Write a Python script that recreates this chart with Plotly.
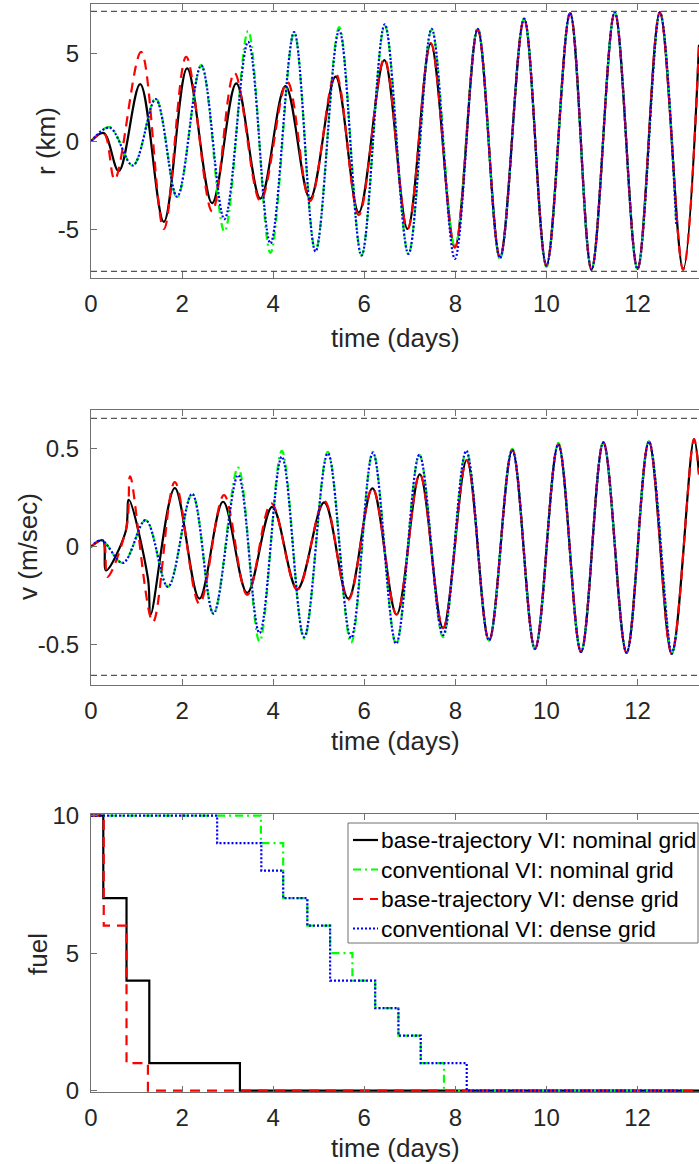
import plotly.graph_objects as go

# ---------------- data ----------------
X_MAX = 13.35
X_TICKS = [0, 2, 4, 6, 8, 10, 12]

# position r (km): extrema of each trajectory
T_R_BT_NOM = [0, 0.28, 0.61, 1.08, 1.60, 2.11, 2.66, 3.19, 3.72, 4.27, 4.81, 5.37, 5.88, 6.44,
              6.95, 7.46, 7.99, 8.49, 8.98, 9.51, 10.0, 10.52, 10.99, 11.50, 12.0, 12.49, 13.0, 13.35]
R_BT_NOM = [0, 0.47, -1.70, 3.26, -4.58, 4.15, -3.52, 3.30, -3.26, 3.15, -3.26, 3.68, -4.05, 4.62,
            -4.99, 5.56, -6.03, 6.36, -6.60, 6.98, -7.07, 7.30, -7.30, 7.35, -7.26, 7.35, -7.30, 5.50]

T_R_BT_DEN = [0, 0.28, 0.52, 1.10, 1.60, 2.09, 2.66, 3.15, 3.72, 4.31, 4.81, 5.37, 5.88, 6.44,
              6.95, 7.46, 7.99, 8.49, 8.98, 9.51, 10.0, 10.52, 10.99, 11.50, 12.0, 12.49, 13.0, 13.35]
R_BT_DEN = [0, 0.47, -2.17, 5.09, -4.99, 4.81, -4.00, 3.90, -3.39, 3.39, -3.40, 3.87, -4.20, 4.71,
            -5.00, 5.60, -6.05, 6.36, -6.60, 6.98, -7.07, 7.30, -7.30, 7.35, -7.26, 7.35, -7.30, 5.50]

T_R_CV = [0, 0.41, 0.92, 1.42, 1.89, 2.42, 2.93, 3.45, 3.94, 4.46, 4.93, 5.45, 5.94, 6.45,
          6.97, 7.48, 7.99, 8.49, 8.98, 9.51, 10.0, 10.52, 10.99, 11.50, 12.0, 12.49, 12.85]
R_CV_NOM = [0, 0.81, -1.37, 2.45, -3.20, 4.34, -5.13, 6.28, -6.35, 6.19, -6.22, 6.50, -6.50, 6.60,
            -6.41, 6.36, -6.03, 6.47, -6.70, 7.00, -7.15, 7.30, -7.30, 7.35, -7.26, 7.35, -4.70]
R_CV_DEN = [0, 0.78, -1.37, 2.40, -3.15, 4.32, -4.43, 5.66, -5.81, 6.22, -6.27, 6.32, -6.50, 6.66,
            -6.41, 6.41, -6.69, 6.41, -6.65, 6.98, -7.07, 7.30, -7.30, 7.35, -7.26, 7.35, -4.70]

R_LIMIT = 7.4
R_RANGE = [-7.78, 7.82]
R_TICKS = [-5, 0, 5]
R_TICK_TEXT = ["-5", "0", "5"]

# velocity v (m/sec)
T_V_BT_NOM = [0, 0.26, 0.33, 0.76, 0.83, 1.25, 1.31, 1.84, 2.38, 2.90, 3.43, 3.98, 4.53, 5.12, 5.65,
              6.18, 6.71, 7.22, 7.73, 8.25, 8.74, 9.25, 9.75, 10.26, 10.76, 11.25, 11.76, 12.25,
              12.75, 13.24, 13.35]
V_BT_NOM = [0, 0.034, -0.12, 0.077, 0.24, -0.16, -0.345, 0.30, -0.264, 0.23, -0.235, 0.204, -0.216,
            0.227, -0.264, 0.298, -0.345, 0.37, -0.414, 0.443, -0.477, 0.494, -0.52, 0.523, -0.536,
            0.533, -0.54, 0.537, -0.545, 0.549, 0.37]

T_V_BT_DEN = [0, 0.26, 0.36, 0.78, 0.86, 1.36, 1.84, 2.38, 2.92, 3.43, 3.96, 4.53, 5.12, 5.65,
              6.18, 6.71, 7.22, 7.73, 8.25, 8.74, 9.25, 9.75, 10.26, 10.76, 11.25, 11.76, 12.25,
              12.75, 13.24, 13.35]
V_BT_DEN = [0, 0.034, -0.153, 0.10, 0.36, -0.383, 0.33, -0.29, 0.264, -0.245, 0.222, -0.218, 0.235,
            -0.27, 0.30, -0.345, 0.37, -0.414, 0.443, -0.477, 0.494, -0.52, 0.523, -0.536, 0.533,
            -0.54, 0.537, -0.545, 0.549, 0.37]

T_V_CV = [0, 0.23, 0.70, 1.20, 1.69, 2.22, 2.69, 3.23, 3.70, 4.19, 4.68, 5.20, 5.71, 6.19, 6.70,
          7.21, 7.73, 8.24, 8.74, 9.25, 9.75, 10.26, 10.76, 11.25, 11.76, 12.25, 12.75, 12.85]
V_CV_NOM = [0, 0.034, -0.082, 0.136, -0.204, 0.27, -0.34, 0.404, -0.482, 0.49, -0.468, 0.485, -0.489,
            0.485, -0.494, 0.469, -0.46, 0.485, -0.477, 0.50, -0.525, 0.53, -0.536, 0.533, -0.54,
            0.537, -0.545, -0.44]
V_CV_DEN = [0, 0.034, -0.082, 0.136, -0.204, 0.27, -0.34, 0.366, -0.44, 0.46, -0.46, 0.477, -0.465,
            0.48, -0.494, 0.469, -0.45, 0.49, -0.477, 0.494, -0.52, 0.523, -0.536, 0.533, -0.54,
            0.537, -0.545, -0.44]

V_LIMIT = 0.655
V_RANGE = [-0.703, 0.698]
V_TICKS = [-0.5, 0, 0.5]
V_TICK_TEXT = ["-0.5", "0", "0.5"]

# remaining fuel (stair steps: time of each burn, fuel left after it)
T_F_BT_NOM = [0, 0.27, 0.78, 1.28, 3.27, 13.35]
F_BT_NOM = [10, 7, 4, 1, 0, 0]
T_F_CV_NOM = [0, 3.73, 4.22, 4.75, 5.25, 5.74, 6.24, 6.75, 7.24, 7.75, 13.0]
F_CV_NOM = [10, 9, 7, 6, 5, 4, 3, 2, 1, 0, 0]
T_F_BT_DEN = [0, 0.28, 0.78, 1.25, 13.35]
F_BT_DEN = [10, 6, 1, 0, 0]
T_F_CV_DEN = [0, 2.77, 3.74, 4.22, 4.75, 5.25, 6.24, 6.75, 7.24, 8.25, 13.0]
F_CV_DEN = [10, 9, 8, 7, 6, 4, 3, 2, 1, 0, 0]
F_TICKS = [0, 5, 10]
F_PAD = 0.06  # keeps the 0 and 10 levels from being clipped at the frame

NAMES = ["base-trajectory VI: nominal grid", "conventional VI: nominal grid",
         "base-trajectory VI: dense grid", "conventional VI: dense grid"]

# ---------------- styling ----------------
W, H = 699, 1164
ML = 91
PW = W - ML
FONT = "Liberation Sans, Arial, sans-serif"
TXT = "#262626"
AXC = "#707070"
STYLES = [
    dict(color="#000000", dash="solid"),
    dict(color="#00ff00", dash="8px,4px,2px,4px"),
    dict(color="#ff0000", dash="10px,7px"),
    dict(color="#0000ff", dash="2px,2px"),
]
LW = 2.2


def px2x(px):
    return (px - ML) / PW


def py2y(py):
    return 1 - py / H


fig = go.Figure()


def add_line(xa, ya, t, y, k, shape):
    fig.add_trace(go.Scatter(
        x=t, y=y, xaxis=xa, yaxis=ya, mode="lines", name=NAMES[k], showlegend=False,
        line=dict(color=STYLES[k]["color"], dash=STYLES[k]["dash"], width=LW,
                  shape=shape, smoothing=1.0),
        hoverinfo="skip"))


# r panel
add_line("x", "y", T_R_BT_NOM, R_BT_NOM, 0, "spline")
add_line("x", "y", T_R_CV, R_CV_NOM, 1, "spline")
add_line("x", "y", T_R_BT_DEN, R_BT_DEN, 2, "spline")
add_line("x", "y", T_R_CV, R_CV_DEN, 3, "spline")
# v panel
add_line("x2", "y2", T_V_BT_NOM, V_BT_NOM, 0, "spline")
add_line("x2", "y2", T_V_CV, V_CV_NOM, 1, "spline")
add_line("x2", "y2", T_V_BT_DEN, V_BT_DEN, 2, "spline")
add_line("x2", "y2", T_V_CV, V_CV_DEN, 3, "spline")
# fuel panel
add_line("x3", "y3", T_F_BT_NOM, F_BT_NOM, 0, "hv")
add_line("x3", "y3", T_F_CV_NOM, F_CV_NOM, 1, "hv")
add_line("x3", "y3", T_F_BT_DEN, F_BT_DEN, 2, "hv")
add_line("x3", "y3", T_F_CV_DEN, F_CV_DEN, 3, "hv")

# dashed bounds on r and v
for xref, yref, lim in (("x domain", "y", R_LIMIT), ("x2 domain", "y2", V_LIMIT)):
    for s in (1, -1):
        fig.add_shape(type="line", xref=xref, yref=yref, x0=0, x1=1, y0=s * lim, y1=s * lim,
                      line=dict(color="#555555", width=1.2, dash="6px,4px"))

tickfont = dict(family=FONT, size=24, color=TXT)


def xaxis(anchor):
    return dict(anchor=anchor, domain=[0, 1], range=[0, X_MAX], tickvals=X_TICKS,
                ticks="inside", ticklen=6, tickwidth=1, tickcolor=AXC,
                showline=True, linecolor=AXC, linewidth=1, mirror="ticks",
                showgrid=False, zeroline=False, tickfont=tickfont, ticklabelstandoff=4)


def yaxis(anchor, top, bottom, rng, tv, tt):
    return dict(anchor=anchor, domain=[py2y(bottom), py2y(top)], range=rng,
                tickvals=tv, ticktext=tt, ticks="inside", ticklen=6, tickwidth=1, tickcolor=AXC,
                showline=True, linecolor=AXC, linewidth=1, mirror=False,
                showgrid=False, zeroline=False, tickfont=tickfont, ticklabelstandoff=6)


F_TOP, F_BOT = 815.7, 1090.7
F_PX = (F_BOT - F_TOP) / 10

fig.update_layout(
    width=W, height=H, margin=dict(l=ML, r=0, t=0, b=0, autoexpand=False),
    paper_bgcolor="white", plot_bgcolor="white",
    font=dict(family=FONT, color=TXT),
    xaxis=xaxis("y"), xaxis2=xaxis("y2"), xaxis3=xaxis("y3"),
    yaxis=yaxis("x", 4, 278, R_RANGE, R_TICKS, R_TICK_TEXT),
    yaxis2=yaxis("x2", 410, 684.7, V_RANGE, V_TICKS, V_TICK_TEXT),
    yaxis3=yaxis("x3", F_TOP - F_PAD * F_PX, F_BOT + F_PAD * F_PX, [-F_PAD, 10 + F_PAD],
                 F_TICKS, [str(v) for v in F_TICKS]),
    showlegend=False,
)

# axis titles
titles = [
    ("time (days)", 0.5, py2y(338), 0),
    ("time (days)", 0.5, py2y(741), 0),
    ("time (days)", 0.5, py2y(1148), 0),
    ("r (km)", px2x(46), py2y(141), -90),
    ("v (m/sec)", px2x(28), py2y(547), -90),
    ("fuel", px2x(38), py2y(954), -90),
]
for text, x, y, ang in titles:
    fig.add_annotation(text=text, x=x, y=y, xref="paper", yref="paper", showarrow=False,
                       xanchor="center", yanchor="middle", textangle=ang,
                       font=dict(family=FONT, size=26, color=TXT))

# legend box for the fuel panel
LEG_L, LEG_R, LEG_T, LEG_B = 348, 698, 823, 943
LEG_ROWS = [840, 869.5, 899, 928.5]
fig.add_shape(type="rect", xref="paper", yref="paper",
              x0=px2x(LEG_L), x1=px2x(LEG_R), y0=py2y(LEG_B), y1=py2y(LEG_T),
              fillcolor="white", line=dict(color=AXC, width=1), layer="above")
for k, (name, row) in enumerate(zip(NAMES, LEG_ROWS)):
    fig.add_shape(type="line", xref="paper", yref="paper",
                  x0=px2x(353), x1=px2x(378), y0=py2y(row), y1=py2y(row),
                  line=dict(color=STYLES[k]["color"], dash=STYLES[k]["dash"], width=LW),
                  layer="above")
    fig.add_annotation(text=name, x=px2x(379), y=py2y(row), xref="paper", yref="paper",
                       showarrow=False, xanchor="left", yanchor="middle",
                       font=dict(family=FONT, size=22.8, color="#000000"))

fig.write_html("out.html")
